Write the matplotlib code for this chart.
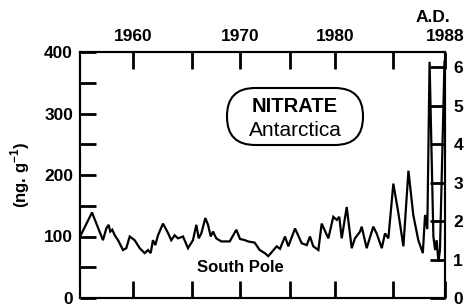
import numpy as np
import matplotlib
matplotlib.use("Agg")
import matplotlib.pyplot as plt
from matplotlib.patches import FancyBboxPatch
from matplotlib.ticker import MultipleLocator

plt.rcParams["font.family"] = ["Liberation Sans", "DejaVu Sans"]
plt.rcParams["mathtext.fontset"] = "custom"
plt.rcParams["mathtext.rm"] = "Liberation Sans:bold"
plt.rcParams["mathtext.bf"] = "Liberation Sans:bold"

# depth-age scale of the firn core (year -> relative depth along the x axis)
AGE_KNOTS   = [1950.0, 1955.5, 1960, 1965, 1970, 1975, 1980, 1985, 1988, 1995.0]
DEPTH_KNOTS = [15.2, 80, 133, 192, 240, 290, 335, 393, 445, 566]

# South Pole nitrate record (ng/g)
anos = [1955.56, 1956.52, 1957.45, 1957.73, 1957.93, 1958.07, 1958.24, 1958.45,
        1958.73, 1959.15, 1959.43, 1959.72, 1960.14, 1960.57, 1960.99, 1961.27,
        1961.50, 1961.69, 1961.89, 1962.12, 1962.54, 1962.96, 1963.24, 1963.53,
        1963.81, 1964.24, 1964.66, 1965.10, 1965.45, 1965.70, 1965.97, 1966.39,
        1966.67, 1966.95, 1967.19, 1967.53, 1968.05, 1968.93, 1969.62, 1970.00,
        1970.50, 1970.80, 1971.47, 1971.97, 1972.47, 1972.83, 1973.67, 1974.00,
        1974.50, 1974.83, 1975.56, 1976.30, 1976.86, 1977.22, 1977.59, 1978.15,
        1978.52, 1979.26, 1979.81, 1980.15, 1980.37, 1980.58, 1981.01, 1981.44,
        1981.72, 1982.16, 1982.30, 1982.73, 1983.30, 1983.59, 1984.03, 1984.31,
        1984.60, 1985.02, 1985.31, 1985.60, 1985.89, 1986.17, 1986.46, 1986.72,
        1986.85, 1986.98, 1987.11, 1987.33, 1987.43, 1987.52, 1987.62, 1987.71,
        1987.97]
nitrato = [102, 139, 94, 113, 119, 108, 111, 102,
           94, 78, 81, 100, 94, 81, 73, 78,
           73, 94, 86, 102, 121, 106, 94, 102,
           97, 100, 81, 94, 119, 97, 105, 130,
           119, 100, 108, 97, 92, 92, 111, 96,
           94, 92, 90, 78, 73, 68, 84, 80,
           100, 84, 113, 89, 86, 100, 84, 78,
           121, 97, 132, 127, 132, 97, 148, 81,
           97, 108, 116, 81, 116, 105, 81, 105,
           97, 186, 138, 84, 207, 135, 94, 73,
           135, 112, 384, 100, 78, 94, 59, 78,
           384]

ticks_top   = [1960, 1965, 1970, 1975, 1980, 1985, 1988]
labels_top  = ["1960", "", "1970", "", "1980", "", "1988"]
ticks_izq   = [0, 100, 200, 300, 400]
ticks_der   = [0, 1, 2, 3, 4, 5, 6]


def profundidad(x):
    # year -> depth along the core
    return np.interp(x, AGE_KNOTS, DEPTH_KNOTS)


fig = plt.figure(figsize=(4.66, 3.08), dpi=100)
ax = fig.add_axes([80 / 466, 10 / 308, 365 / 466, 246 / 308])

ax.plot(profundidad(anos), nitrato, color="black", linewidth=1.6,
        solid_joinstyle="miter")

ax.set_xlim(profundidad(1955.5), profundidad(1988))
ax.set_ylim(0, 400)

for s in ax.spines.values():
    s.set_linewidth(1.5)

ax.set_xticks(profundidad(ticks_top))
ax.set_xticklabels(labels_top)
ax.tick_params(axis="x", direction="in", length=12, width=2,
               top=True, bottom=True, labeltop=True, labelbottom=False,
               labelsize=12.5, pad=6)
for t in ax.get_xticklabels():
    t.set_fontweight("bold")

ax.set_yticks(ticks_izq)
ax.yaxis.set_minor_locator(MultipleLocator(50))
ax.tick_params(axis="y", which="both", direction="in", length=11.5, width=2,
               labelsize=12.5, pad=5)
for t in ax.get_yticklabels():
    t.set_fontweight("bold")

ax.set_ylabel(r"(ng. g$^{-1}$)", fontsize=12, fontweight="bold", labelpad=9)

ax2 = ax.twinx()
ax2.set_ylim(0, 246 / 38.5)
ax2.set_yticks(ticks_der)
ax2.tick_params(axis="y", direction="in", length=10.8, width=2,
                labelsize=12.5, pad=6)
for t in ax2.get_yticklabels():
    t.set_fontweight("bold")
for s in ax2.spines.values():
    s.set_linewidth(1.5)

# rounded label box
caja = FancyBboxPatch((147 / 365, 153 / 246), 136 / 365, 57 / 246,
                      boxstyle="round,pad=0,rounding_size=0.077",
                      mutation_aspect=1.484, transform=ax.transAxes,
                      facecolor="white", edgecolor="black", linewidth=1.5,
                      zorder=5)
ax.add_patch(caja)
ax.text(215 / 365, 186 / 246, "NITRATE", transform=ax.transAxes,
        ha="center", va="baseline", fontsize=14.5, fontweight="bold", zorder=6)
ax.text(215 / 365, 162 / 246, "Antarctica", transform=ax.transAxes,
        ha="center", va="baseline", fontsize=15, zorder=6)

ax.text(117 / 365, 30 / 246, "South Pole", transform=ax.transAxes,
        ha="left", va="center", fontsize=12, fontweight="bold")

fig.text(433 / 466, 1 - 17 / 308, "A.D.", ha="center", va="center",
         fontsize=12.5, fontweight="bold")

fig.savefig("out.png", dpi=100)
